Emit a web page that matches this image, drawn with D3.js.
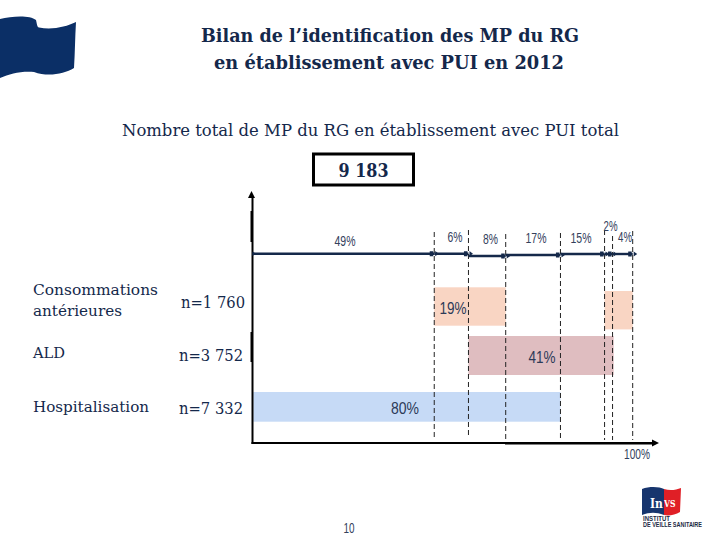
<!DOCTYPE html>
<html><head><meta charset="utf-8">
<script src="https://cdn.jsdelivr.net/npm/d3@7"></script>
<style>html,body{margin:0;padding:0;background:#fff}svg{display:block}</style>
</head><body><svg id="c" width="720" height="540"></svg>
<script>
const rowNames = ["Consommations antérieures","ALD","Hospitalisation"];
const rowCounts = ["n=1 760","n=3 752","n=7 332"];
const segmentLabels = ["49%","6%","8%","17%","15%","2%","4%"];
const segmentEnds = [47.8,56.8,66.6,81.0,92.6,94.7,100];
const barRows = [0,0,1,2];
const barStarts = [47.8,92.6,56.8,0.2];
const barEnds = [66.6,100,95,81.0];
const barLabels = ["19%","","41%","80%"];
const barColors = ["#f9d5c3","#f9d5c3","#dfbdc0","#c6daf6"];
const total = "9 183";

const navy="#14284b", serif="'DejaVu Serif Condensed','DejaVu Serif',serif", sans="'Liberation Sans',sans-serif";
const svg=d3.select("#c");
const x=d3.scaleLinear().domain([0,100]).range([252.5,632.7]);
const rowTop=d3.scaleOrdinal([0,1,2],[287.3,336,392]);
const rowH=d3.scaleOrdinal([0,1,2],[38.4,39,29.7]);

function text(t,px,py,o){
  const e=svg.append("text").attr("x",px).attr("y",py).text(t)
    .attr("fill",o.fill||navy).attr("font-family",o.font||serif).attr("font-size",o.size)
    .attr("font-stretch",o.font?"normal":"condensed")
    .attr("font-weight",o.bold?"bold":"normal").attr("text-anchor",o.anchor||"start");
  if(o.len) e.attr("textLength",o.len).attr("lengthAdjust","spacingAndGlyphs");
  return e;
}

// logos
svg.append("path").attr("fill","#0b2f66")
 .attr("d","M0,19 C12,16 30,15 36,20 C37,24 37,27 39,27.5 C52,30 66,27 76,22 C75,38 75,52 74,68 C64,74 48,77 34,72 C20,71 10,74 0,78 Z");
svg.append("path").attr("fill","#17356e").attr("d","M642,489 C650,486 660,487 664,489 L664,515 C656,512 650,512 642,515 Z");
svg.append("path").attr("fill","#e01f26").attr("d","M664,489 C670,491 676,490 681,488 L680,512 C675,515 669,516 664,515 Z");
text("In",650,508,{size:12,fill:"#fff",bold:true});
text("VS",664,507,{size:8.5,fill:"#fff",bold:true});
text("INSTITUT",643,521,{size:6.5,bold:true,font:sans,fill:"#1c2a44",len:27});
text("DE VEILLE SANITAIRE",643,527,{size:6.5,bold:true,font:sans,fill:"#1c2a44",len:59});

// titles
text("Bilan de l’identification des MP du RG",390,42,{size:19,bold:true,anchor:"middle",len:378});
text("en établissement avec PUI en 2012",389,69,{size:19,bold:true,anchor:"middle",len:350});
text("Nombre total de MP du RG en établissement avec PUI total",370.5,136,{size:17,anchor:"middle",len:497});
svg.append("rect").attr("x",313.5).attr("y",154).attr("width",100).attr("height",31)
  .attr("fill","none").attr("stroke","#000").attr("stroke-width",3);
text(total,363.5,177,{size:18,bold:true,anchor:"middle",len:50});

// bars
svg.selectAll("rect.bar").data(barRows).join("rect").attr("class","bar")
  .attr("x",(d,i)=>x(barStarts[i]))
  .attr("width",(d,i)=>x(barEnds[i])-x(barStarts[i]))
  .attr("y",(d,i)=>rowTop(d)+(i===1?3.7:0))
  .attr("height",d=>rowH(d))
  .attr("fill",(d,i)=>barColors[i]);

// dashed guides
const guideTop=[232,230,234,233,230,236,231], guideBottom=[439,438,443,440,440,440,440];
svg.selectAll("line.guide").data(segmentEnds).join("line").attr("class","guide")
  .attr("x1",d=>x(d)).attr("x2",d=>x(d))
  .attr("y1",(d,i)=>guideTop[i]).attr("y2",(d,i)=>guideBottom[i])
  .attr("stroke","#222").attr("stroke-width",1).attr("stroke-dasharray","5 3");

// axes
svg.append("line").attr("x1",x(0)).attr("x2",x(0)).attr("y1",196).attr("y2",444).attr("stroke","#000").attr("stroke-width",2);
svg.append("line").attr("x1",x(0)-1).attr("x2",x(0)-1).attr("y1",211).attr("y2",242).attr("stroke","#000").attr("stroke-width",2);
svg.append("line").attr("x1",x(0)-1).attr("x2",x(0)-1).attr("y1",332).attr("y2",362).attr("stroke","#000").attr("stroke-width",2);
svg.append("path").attr("d",`M${x(0)-1},191 l-3.5,7 h7 z`).attr("fill","#000");
svg.append("line").attr("x1",x(0)-1).attr("x2",652).attr("y1",443).attr("y2",443).attr("stroke","#000").attr("stroke-width",2);
svg.append("line").attr("x1",505).attr("x2",652).attr("y1",443.5).attr("y2",443.5).attr("stroke","#000").attr("stroke-width",2);
svg.append("path").attr("d","M659,443 l-7,-3.5 v7 z").attr("fill","#000");

// segment line
const segY=[253.7,253.7,256,255,254,254,254];
const segStart=[0,...segmentEnds.slice(0,-1)];
svg.selectAll("line.seg").data(segmentEnds).join("line").attr("class","seg")
  .attr("x1",(d,i)=>x(segStart[i])).attr("x2",d=>x(d))
  .attr("y1",(d,i)=>segY[i]).attr("y2",(d,i)=>segY[i])
  .attr("stroke","#15294a").attr("stroke-width",2.4);
svg.selectAll("path.tipA").data(segmentEnds).join("path").attr("class","tipA")
  .attr("transform",(d,i)=>`translate(${x(d)},${segY[i]})`)
  .attr("d","M-4.5,-2.5 h3.5 v5 h-3.5 z M1,-2.6 l3.5,2.6 l-3.5,2.6 z").attr("fill","#15294a");
svg.append("path").attr("d",`M${x(0)},251.4 l3.5,2.3 l-3.5,2.3 z`).attr("fill","#15294a");

// segment labels
const segLabelX=[345,455,490.5,536,581,610.5,625], segLabelY=[246,241.5,244,243,243,231,242], segLabelLen=[21,15,15,21,21,14,14];
segmentLabels.forEach((s,i)=>text(s,segLabelX[i],segLabelY[i],{font:sans,size:14.5,anchor:"middle",fill:"#33405c",len:segLabelLen[i]}));

// bar labels
const labelX=[453,0,542,405], labelY=[314,0,362.5,413.5], labelLen=[27,0,27,28];
barLabels.forEach((s,i)=>{if(s) text(s,labelX[i],labelY[i],{font:sans,size:17,anchor:"middle",fill:"#2c3a58",len:labelLen[i]});});

// row names & counts
text("Consommations",33,295,{size:15.5,len:125});
text("antérieures",33,316,{size:15.5,len:89});
text(rowNames[1],33,358,{size:15.5,len:32});
text(rowNames[2],33,412,{size:15.5,len:116});
const countX=[181,179,179], countY=[308,361,414], countLen=[64,64,64];
rowCounts.forEach((s,i)=>text(s,countX[i],countY[i],{size:16,len:countLen[i]}));

text("100%",637,459,{font:sans,size:14,anchor:"middle",fill:"#33405c",len:26});
text("10",349,533,{font:sans,size:14,anchor:"middle",fill:"#33405c",len:11});
</script></body></html>
